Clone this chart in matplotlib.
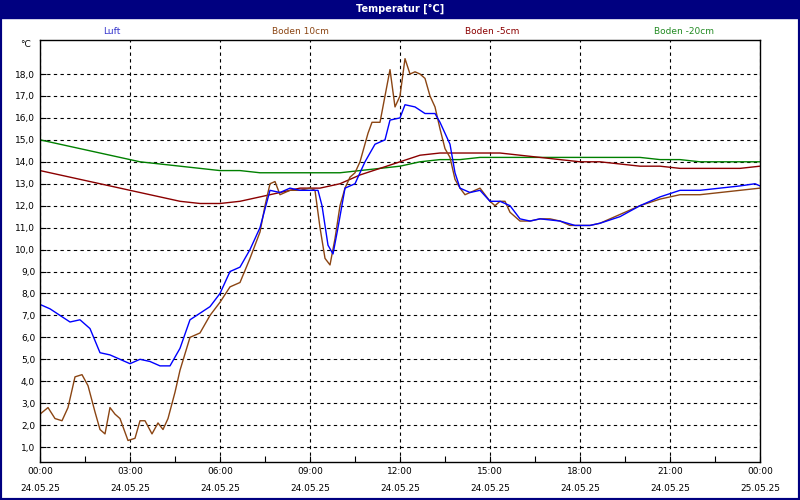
import matplotlib
matplotlib.use("Agg")
import matplotlib.pyplot as plt
from matplotlib.patches import Rectangle

# x pixel -> hours: (x-40)/30
luft_x = [40,50,60,70,80,90,100,110,120,130,140,150,160,170,180,190,200,210,220,230,240,250,260,270,280,290,300,310,318,322,328,333,338,345,355,365,375,385,390,400,405,415,425,435,440,450,455,460,470,480,490,500,510,520,530,540,560,575,590,600,620,640,660,680,700,720,740,755,760]
luft_y = [7.5,7.3,7.0,6.7,6.8,6.4,5.3,5.2,5.0,4.8,5.0,4.9,4.7,4.7,5.5,6.8,7.1,7.4,8.0,9.0,9.2,10.0,11.0,12.7,12.6,12.8,12.7,12.7,12.7,12.0,10.2,9.8,11.0,12.8,13.0,14.0,14.8,15.0,15.9,16.0,16.6,16.5,16.2,16.2,15.8,14.8,13.5,12.8,12.6,12.7,12.2,12.2,12.0,11.4,11.3,11.4,11.3,11.1,11.1,11.2,11.5,12.0,12.4,12.7,12.7,12.8,12.9,13.0,12.9]
b10_x = [40,48,55,62,68,75,82,88,95,100,105,110,115,120,128,135,140,145,152,158,163,168,175,180,190,200,210,220,230,240,250,260,265,270,275,280,290,300,310,315,320,325,330,335,340,345,350,355,360,368,372,380,385,390,395,400,405,410,415,420,425,430,435,440,445,450,455,460,465,470,480,485,490,495,500,505,510,515,520,530,540,550,560,570,580,590,600,620,640,660,680,700,720,740,760]
b10_y = [2.5,2.8,2.3,2.2,2.8,4.2,4.3,3.8,2.6,1.8,1.6,2.8,2.5,2.3,1.3,1.4,2.2,2.2,1.6,2.1,1.8,2.3,3.5,4.5,6.0,6.2,7.0,7.6,8.3,8.5,9.6,10.8,12.0,13.0,13.1,12.5,12.7,12.7,12.8,12.7,11.0,9.6,9.3,10.5,12.0,12.8,13.3,13.5,14.0,15.3,15.8,15.8,17.0,18.2,16.5,17.0,18.7,18.0,18.1,18.0,17.8,17.0,16.5,15.5,14.6,14.2,13.2,12.8,12.5,12.6,12.8,12.5,12.2,12.0,12.2,12.2,11.7,11.5,11.3,11.3,11.4,11.4,11.3,11.1,11.1,11.1,11.2,11.6,12.0,12.3,12.5,12.5,12.6,12.7,12.8]
slow_x = list(range(40, 761, 20))
b5_y = [13.6,13.4,13.2,13.0,12.8,12.6,12.4,12.2,12.1,12.1,12.2,12.4,12.6,12.8,12.8,13.0,13.4,13.7,14.0,14.3,14.4,14.4,14.4,14.4,14.3,14.2,14.1,14.0,14.0,13.9,13.8,13.8,13.7,13.7,13.7,13.7,13.8]
b20_y = [15.0,14.8,14.6,14.4,14.2,14.0,13.9,13.8,13.7,13.6,13.6,13.5,13.5,13.5,13.5,13.5,13.6,13.7,13.8,14.0,14.1,14.1,14.2,14.2,14.2,14.2,14.2,14.2,14.2,14.2,14.2,14.1,14.1,14.0,14.0,14.0,14.0]

xticks_h = [0,3,6,9,12,15,18,21,24]
xtick_labels = ["00:00\n24.05.25","03:00\n24.05.25","06:00\n24.05.25","09:00\n24.05.25","12:00\n24.05.25","15:00\n24.05.25","18:00\n24.05.25","21:00\n24.05.25","00:00\n25.05.25"]
yticks = list(range(1, 19))

h = lambda xs: [(x - 40) / 30 for x in xs]

plt.rcParams['font.family'] = ['DejaVu Sans']
fig = plt.figure(figsize=(8, 5), dpi=100)
navy = '#000080'
fig.patches.append(Rectangle((0, 0), 1, 1, transform=fig.transFigure, fill=False, edgecolor=navy, linewidth=3))
fig.patches.append(Rectangle((0, 1 - 18/500), 1, 18/500, transform=fig.transFigure, color=navy))
fig.text(0.5, 1 - 9/500, "Temperatur [°C]", color='white', fontsize=7, fontweight='bold', ha='center', va='center')

for xp, name, col in [(0.14, "Luft", '#3333cc'), (0.375, "Boden 10cm", '#8b4513'), (0.615, "Boden -5cm", '#8b0000'), (0.855, "Boden -20cm", '#228b22')]:
    fig.text(xp, 1 - 31/500, name, color=col, fontsize=6.5, ha='center', va='center')

ax = fig.add_axes([0.05, 0.076, 0.90, 0.844])
ax.plot(h(slow_x), b20_y, color='#008000', lw=1)
ax.plot(h(slow_x), b5_y, color='#8b0000', lw=1)
ax.plot(h(b10_x), b10_y, color='#8b4513', lw=1)
ax.plot(h(luft_x), luft_y, color='#0000ff', lw=1)

ax.set_xlim(0, 24)
ax.set_ylim(0.32, 19.55)
ax.set_xticks(xticks_h)
ax.set_xticklabels(xtick_labels, fontsize=6.5, linespacing=2.2)
ax.set_xticks([1.5 + 3*i for i in range(8)], minor=True)
ax.set_yticks(yticks)
ax.set_yticklabels([f"{v},0" for v in yticks], fontsize=6.5)
ax.grid(True, which='major', color='black', linestyle=(0, (3, 3)), linewidth=0.8)
ax.tick_params(which='both', direction='in', length=4, width=0.8)
for s in ax.spines.values():
    s.set_linewidth(1)
ax.text(-0.012, 1.0, "°C", transform=ax.transAxes, fontsize=6.5, ha='right', va='top')
fig.savefig("out.png", dpi=100)
